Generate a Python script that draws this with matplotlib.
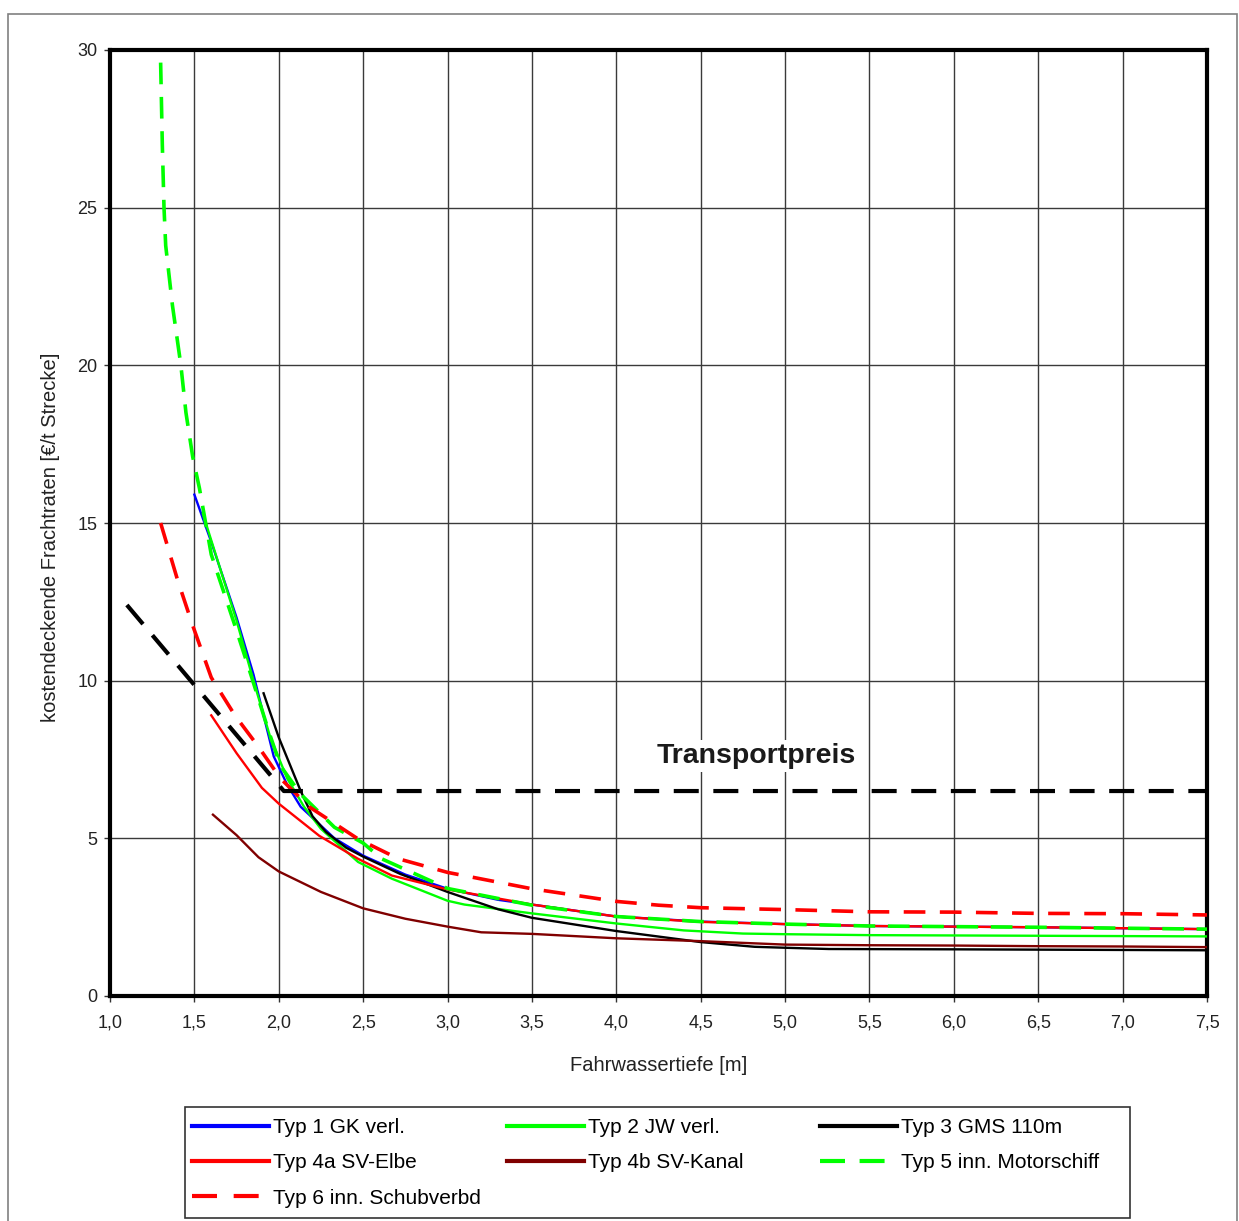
import matplotlib
matplotlib.use("Agg")
import matplotlib.pyplot as plt
from matplotlib.patches import Rectangle

plt.rcParams['font.family'] = ['Liberation Sans', 'DejaVu Sans']

# Typ 1 GK verl.
typ1_x = [1.5, 1.6, 1.75, 1.85, 1.97, 2.05, 2.13, 2.33, 2.5, 2.75, 3.0, 3.3, 3.5, 4.0, 4.5, 5.0, 5.5, 6.0, 6.5, 7.0, 7.5]
typ1_y = [15.9, 14.4, 12.0, 10.2, 7.6, 6.7, 6.0, 5.0, 4.45, 3.85, 3.4, 3.05, 2.9, 2.52, 2.36, 2.28, 2.22, 2.2, 2.18, 2.15, 2.12]

# Typ 2 JW verl.
typ2_x = [1.55, 1.65, 1.75, 1.85, 1.95, 2.05, 2.15, 2.25, 2.47, 2.67, 3.0, 3.1, 3.5, 4.0, 4.4, 4.75, 5.0, 5.5, 6.0, 6.5, 7.0, 7.5]
typ2_y = [15.3, 13.6, 11.9, 10.0, 8.2, 6.9, 6.0, 5.3, 4.25, 3.72, 3.02, 2.9, 2.62, 2.3, 2.08, 1.98, 1.96, 1.93, 1.92, 1.91, 1.9, 1.89]

# Typ 3 GMS 110m
typ3_x = [1.91, 2.0, 2.13, 2.2, 2.28, 2.4, 2.5, 2.72, 3.0, 3.3, 3.5, 4.0, 4.5, 4.82, 5.0, 5.26, 6.0, 6.5, 7.0, 7.5]
typ3_y = [9.6, 8.2, 6.5, 5.7, 5.2, 4.7, 4.42, 3.87, 3.3, 2.75, 2.48, 2.06, 1.71, 1.56, 1.53, 1.49, 1.48, 1.47, 1.46, 1.45]

# Typ 4a SV-Elbe
typ4a_x = [1.6, 1.75, 1.9, 2.0, 2.24, 2.47, 2.67, 3.0, 3.5, 4.0, 4.5, 5.0, 5.5, 6.0, 6.5, 7.0, 7.5]
typ4a_y = [8.9, 7.7, 6.6, 6.1, 5.08, 4.35, 3.82, 3.38, 2.9, 2.52, 2.35, 2.28, 2.22, 2.2, 2.18, 2.15, 2.12]

# Typ 4b SV-Kanal
typ4b_x = [1.61, 1.75, 1.88, 2.0, 2.25, 2.5, 2.75, 3.0, 3.2, 3.5, 4.0, 4.5, 5.0, 5.5, 6.0, 6.5, 7.0, 7.5]
typ4b_y = [5.75, 5.1, 4.4, 3.95, 3.3, 2.78, 2.45, 2.2, 2.02, 1.97, 1.83, 1.74, 1.63, 1.61, 1.6, 1.58, 1.57, 1.55]

# Typ 5 inn. Motorschiff
typ5_x = [1.30, 1.31, 1.32, 1.33, 1.37, 1.42, 1.45, 1.49, 1.53, 1.6, 1.74, 1.84, 1.94, 2.01, 2.13, 2.33, 2.5,
          2.61, 2.83, 3.0, 3.5, 4.0, 4.5, 5.0, 5.5, 6.0, 6.5, 7.0, 7.5]
typ5_y = [29.6, 27.0, 25.0, 23.8, 21.9, 20.0, 18.5, 17.1, 16.1, 14.0, 11.75, 10.1, 8.4, 7.3, 6.4, 5.35, 4.85,
          4.35, 3.82, 3.41, 2.88, 2.52, 2.36, 2.28, 2.22, 2.2, 2.18, 2.15, 2.12]

# Typ 6 inn. Schubverbd
typ6_x = [1.3, 1.4, 1.49, 1.6, 1.74, 1.88, 2.01, 2.18, 2.47, 2.71, 3.0, 3.5, 4.0, 4.25, 4.5, 5.0, 5.5, 6.0, 6.5, 7.0, 7.5]
typ6_y = [15.0, 13.2, 11.75, 10.1, 8.9, 7.9, 6.9, 6.0, 4.98, 4.35, 3.92, 3.4, 3.0, 2.88, 2.8, 2.74, 2.67, 2.66, 2.62, 2.61, 2.57]

# Transportpreis
preis_x = [1.1, 2.03, 7.5]
preis_y = [12.4, 6.5, 6.5]

x_ticks = [1.0, 1.5, 2.0, 2.5, 3.0, 3.5, 4.0, 4.5, 5.0, 5.5, 6.0, 6.5, 7.0, 7.5]
x_tick_labels = ["1,0", "1,5", "2,0", "2,5", "3,0", "3,5", "4,0", "4,5", "5,0", "5,5", "6,0", "6,5", "7,0", "7,5"]
y_ticks = [0, 5, 10, 15, 20, 25, 30]

W, H = 1239, 1221

fig = plt.figure(figsize=(W / 100, H / 100), dpi=100)
ax = fig.add_axes([110 / W, 1 - 996 / H, (1207 - 110) / W, (996 - 50) / H])

# outer frame
fig.patches.append(Rectangle((8 / W, -0.05), (1237 - 8) / W, 1.05 - 14 / H, transform=fig.transFigure,
                             fill=False, edgecolor='#808080', linewidth=1.2))

solid_lw = 1.7
dash_lw = 2.6

ax.plot(typ1_x, typ1_y, color='#0000ff', lw=solid_lw, label="Typ 1 GK verl.", zorder=3)
ax.plot(typ2_x, typ2_y, color='#00ff00', lw=solid_lw, label="Typ 2 JW verl.", zorder=3)
ax.plot(typ3_x, typ3_y, color='black', lw=solid_lw, label="Typ 3 GMS 110m", zorder=3)
ax.plot(typ4a_x, typ4a_y, color='#ff0000', lw=solid_lw, label="Typ 4a SV-Elbe", zorder=3)
ax.plot(typ4b_x, typ4b_y, color='#800000', lw=solid_lw, label="Typ 4b SV-Kanal", zorder=3)
ax.plot(typ5_x, typ5_y, color='#00ff00', lw=dash_lw, dashes=(6, 3.5), label="Typ 5 inn. Motorschiff", zorder=4)
ax.plot(typ6_x, typ6_y, color='#ff0000', lw=dash_lw, dashes=(6, 4), label="Typ 6 inn. Schubverbd", zorder=4)
ax.plot(preis_x, preis_y, color='black', lw=3.0, dashes=(6, 3.5), zorder=4)

ax.text(4.83, 7.62, "Transportpreis", ha='center', va='center', fontsize=20.5, fontweight='bold',
        color='#1a1a1a', bbox=dict(facecolor='white', edgecolor='none', pad=2), zorder=2)

ax.set_xlim(1.0, 7.5)
ax.set_ylim(0, 30)
ax.set_xticks(x_ticks)
ax.set_xticklabels(x_tick_labels)
ax.set_yticks(y_ticks)
ax.grid(True, color='#3a3a3a', linewidth=1.0, zorder=1)
ax.set_axisbelow(True)

for sp in ax.spines.values():
    sp.set_linewidth(3.0)
    sp.set_color('black')

ax.tick_params(axis='both', labelsize=13, length=4, width=1, color='#333333', labelcolor='#222222')
ax.tick_params(axis='x', pad=9)
ax.tick_params(axis='y', pad=5)

ax.set_xlabel("Fahrwassertiefe [m]", fontsize=14.5, color='#222222', labelpad=18)
ax.set_ylabel("kostendeckende Frachtraten [€/t Strecke]", fontsize=14.5, color='#222222')
ax.yaxis.set_label_coords(-0.0455, 0.485)

# legend: three columns of equal width, like the original
handles, labels = ax.get_legend_handles_labels()
columns = [([0, 3, 6], 192), ([1, 4], 507), ([2, 5], 820)]
for idx, x_px in columns:
    leg = fig.legend([handles[i] for i in idx], [labels[i] for i in idx],
                     loc='upper left', bbox_to_anchor=(x_px / W, 1 - 1118 / H),
                     fontsize=15, handlelength=3.7, handletextpad=0.2, labelspacing=0.78,
                     borderpad=0, borderaxespad=0, frameon=False)
    for line in leg.get_lines():
        line.set_linewidth(3.0)

fig.patches.append(Rectangle((185 / W, 1 - 1218 / H), (1130 - 185) / W, (1218 - 1107) / H,
                             transform=fig.transFigure, fill=False, edgecolor='#333333', linewidth=1.2))

fig.savefig("out.png", dpi=100)
